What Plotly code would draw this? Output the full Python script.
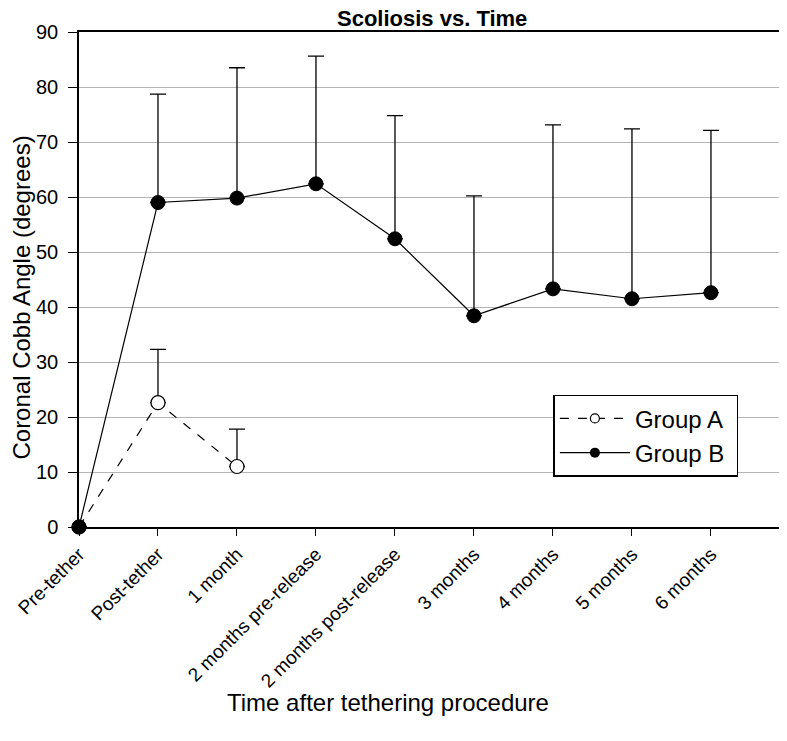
import plotly.graph_objects as go

categories = ["Pre-tether", "Post-tether", "1 month", "2 months pre-release",
              "2 months post-release", "3 months", "4 months", "5 months", "6 months"]

group_a = [0, 22.6, 11.0]
group_a_err = [0, 9.7, 6.8]

group_b = [0, 59.0, 59.8, 62.4, 52.4, 38.4, 43.3, 41.5, 42.6]
group_b_err = [0, 19.7, 23.7, 23.2, 22.4, 21.8, 29.8, 30.9, 29.5]

y_ticks = [0, 10, 20, 30, 40, 50, 60, 70, 80, 90]

font = "Liberation Sans, Arial, sans-serif"
idx = list(range(len(categories)))

fig = go.Figure()

fig.add_trace(go.Scatter(
    x=idx[:len(group_a)], y=group_a, name="Group A", showlegend=False,
    mode="lines+markers", cliponaxis=False,
    line=dict(color="black", width=1.2, dash="dash"),
    marker=dict(symbol="circle", size=14, color="white",
                line=dict(color="black", width=1.2)),
    error_y=dict(type="data", symmetric=False, array=group_a_err,
                 arrayminus=[0] * len(group_a), color="black",
                 thickness=1.3, width=8),
))

fig.add_trace(go.Scatter(
    x=idx, y=group_b, name="Group B", showlegend=False,
    mode="lines+markers", cliponaxis=False,
    line=dict(color="black", width=1.2),
    marker=dict(symbol="circle", size=14, color="black",
                line=dict(color="black", width=1)),
    error_y=dict(type="data", symmetric=False, array=group_b_err,
                 arrayminus=[0] * len(group_b), color="black",
                 thickness=1.3, width=8),
))

# legend entries with the smaller symbols of the original key
fig.add_trace(go.Scatter(
    x=[None], y=[None], name="Group A\u00a0", mode="lines+markers",
    line=dict(color="black", width=1.2, dash="dash"),
    marker=dict(symbol="circle", size=9, color="white",
                line=dict(color="black", width=1.2)),
))
fig.add_trace(go.Scatter(
    x=[None], y=[None], name="Group B\u00a0", mode="lines+markers",
    line=dict(color="black", width=1.2),
    marker=dict(symbol="circle", size=10, color="black"),
))

fig.update_layout(
    width=787, height=741,
    margin=dict(l=71, r=9, t=24, b=222),
    paper_bgcolor="white", plot_bgcolor="white",
    font=dict(family=font, size=20, color="black"),
    title=dict(text="<b>Scoliosis vs. Time</b>", x=0.539, xanchor="center",
               y=0.986, yanchor="middle", font=dict(size=22)),
    xaxis=dict(
        range=[0, 8.95], tickvals=idx, ticktext=categories,
        tickangle=-45, ticks="outside", ticklen=7, tickcolor="black",
        tickfont=dict(size=19), automargin=False,
        showgrid=False, zeroline=False,
        showline=True, linecolor="black", linewidth=1.5, mirror=True,
    ),
    yaxis=dict(
        range=[0, 90], tickvals=y_ticks,
        ticks="outside", ticklen=9, tickcolor="black",
        tickfont=dict(size=20), automargin=False, ticklabelstandoff=6,
        showgrid=True, gridcolor="#b4b4b4", gridwidth=1, zeroline=False,
        showline=True, linecolor="black", linewidth=1.5, mirror=True,
    ),
    legend=dict(
        x=0.671, y=0.267, xanchor="left", yanchor="top",
        bgcolor="white", bordercolor="black", borderwidth=1.5,
        font=dict(size=24), itemwidth=70,
    ),
    annotations=[
        dict(text="Time after tethering procedure", xref="paper", yref="paper",
             x=0.437, y=-0.355, xanchor="center", yanchor="middle",
             showarrow=False, font=dict(size=24)),
        dict(text="Coronal Cobb Angle (degrees)", xref="paper", yref="paper",
             x=-0.081, y=0.463, xanchor="center", yanchor="middle",
             textangle=-90, showarrow=False, font=dict(size=24)),
    ],
)

fig.write_html("out.html")
